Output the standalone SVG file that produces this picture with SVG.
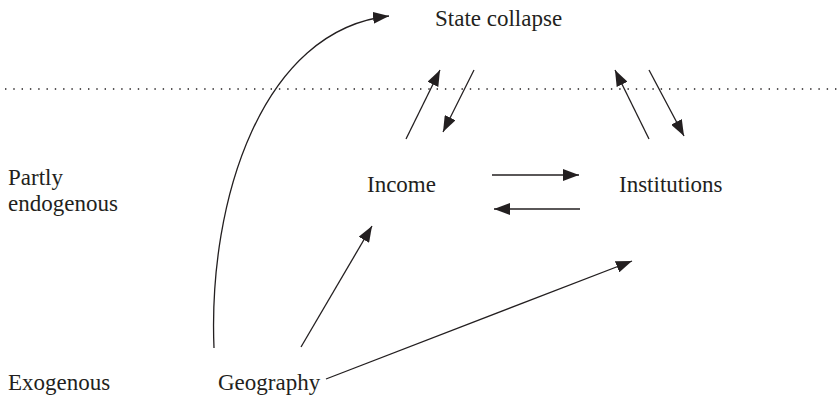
<svg xmlns="http://www.w3.org/2000/svg" width="837" height="399" viewBox="0 0 837 399">
<style>
text{font-family:"Liberation Serif","DejaVu Serif",serif;font-size:23px;fill:#231f20}
.c{fill:none;stroke:#231f20;stroke-width:1.3}
.dot{fill:none;stroke:#231f20;stroke-width:1.6;stroke-dasharray:1.4 6.9}
</style>
<defs>
<marker id="ah" viewBox="0 0 16 12" refX="16" refY="6" markerWidth="16" markerHeight="12" markerUnits="userSpaceOnUse" orient="auto">
<path d="M0,0 L16,6 L0,12 Z" fill="#231f20"/>
</marker>
</defs>
<rect width="837" height="399" fill="#fff"/>
<line class="dot" x1="5" y1="89" x2="837" y2="89"/>
<g id="state-collapse"><text x="435" y="26">State collapse</text></g>
<g id="income"><text x="367" y="192">Income</text></g>
<g id="institutions"><text x="619" y="192">Institutions</text></g>
<g id="partly-endogenous"><text x="8" y="185">Partly</text><text x="8" y="211">endogenous</text></g>
<g id="exogenous"><text x="8" y="390">Exogenous</text></g>
<g id="geography"><text x="218" y="390">Geography</text></g>
<g id="connectors">
<path class="c" marker-end="url(#ah)" d="M214,348 C208,200 262,30 389,16"/>
<line class="c" marker-end="url(#ah)" x1="406" y1="139" x2="440" y2="70"/>
<line class="c" marker-end="url(#ah)" x1="474" y1="70" x2="443" y2="132"/>
<line class="c" marker-end="url(#ah)" x1="649" y1="139" x2="615" y2="70"/>
<line class="c" marker-end="url(#ah)" x1="649" y1="70" x2="684" y2="136"/>
<line class="c" marker-end="url(#ah)" x1="492" y1="175" x2="579" y2="175"/>
<line class="c" marker-end="url(#ah)" x1="580" y1="209" x2="494" y2="209"/>
<line class="c" marker-end="url(#ah)" x1="301" y1="347" x2="372" y2="226"/>
<line class="c" marker-end="url(#ah)" x1="326" y1="379" x2="632" y2="261"/>
</g>
</svg>
